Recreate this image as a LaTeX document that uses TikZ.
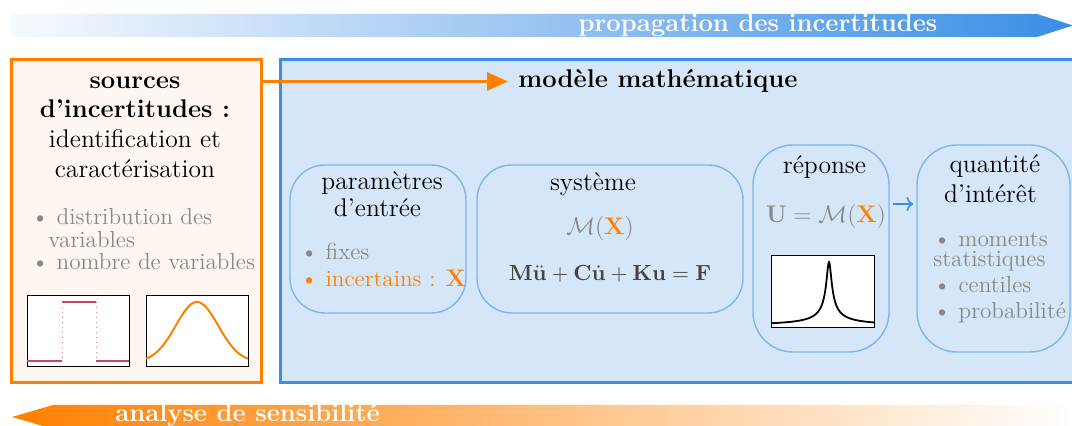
\documentclass[tikz,border=0pt]{standalone}
\usetikzlibrary{arrows.meta}
\definecolor{ora}{HTML}{FF8000}
\definecolor{blu}{HTML}{3A8EE6}
\definecolor{bfill}{HTML}{D5E6F8}
\definecolor{bin}{HTML}{7DB5EE}
\definecolor{ofill}{HTML}{FEF7F1}
\definecolor{gtext}{HTML}{888888}
\definecolor{eqc}{HTML}{444444}
\definecolor{unif}{HTML}{C8465E}
\definecolor{bandlight}{HTML}{F7FAFE}
\tikzset{
  ttl/.style={font=\fontsize{12.8}{15}\selectfont, inner sep=0pt, anchor=base},
  mth/.style={font=\fontsize{12.3}{15}\selectfont, inner sep=0pt, anchor=base},
  lst/.style={font=\fontsize{11.6}{14}\selectfont, text=gtext, inner sep=0pt, anchor=base west},
  bld/.style={font=\fontsize{12.8}{15}\selectfont\bfseries, inner sep=0pt, anchor=base},
  bandtxt/.style={font=\fontsize{12.8}{15}\selectfont\bfseries, text=white, inner sep=0pt, anchor=base},
  innerbox/.style={draw=bin, line width=0.7pt, fill=bfill, rounded corners=#1, inner sep=0pt},
  plotbox/.style={draw=black, line width=0.5pt, fill=white},
}
\begin{document}
\begin{tikzpicture}[x=0.5pt,y=-0.5pt]
\useasboundingbox (0,0) rectangle (1072,426);
\clip (0,0) rectangle (1072,426);
% bands
\shade[left color=bandlight, right color=blu] (10,14) -- (1037,14) -- (1073,25.5) -- (1037,37) -- (10,37) -- cycle;
\node[bandtxt] (prop) at (758,31.7) {propagation des incertitudes};
\shade[left color=ora, right color=white] (12,417) -- (53,405) -- (1072,405) -- (1072,429) -- (53,429) -- cycle;
\node[bandtxt] (sens) at (247.5,422) {analyse de sensibilité};
% main boxes
\node[draw=ora, fill=ofill, line width=1.5pt, minimum width=125.25pt, minimum height=161.25pt, inner sep=0pt] (src) at (136.25,221) {};
\node[draw=blu, fill=bfill, line width=1.5pt, minimum width=405pt, minimum height=161.25pt, inner sep=0pt] (mdl) at (685,221) {};
% source texts
\node[bld] (s1) at (135,88.3) {sources};
\node[bld] (s2) at (135,117.7) {d’incertitudes :};
\node[ttl] (s3) at (135,148) {identification et};
\node[ttl] (s4) at (135,178) {caractérisation};
\node[lst] (s5) at (31,225) {\textbullet\ distribution des};
\node[lst] (s6) at (48,248) {variables};
\node[lst] (s7) at (31,270) {\textbullet\ nombre de variables};
% uniform plot
\draw[plotbox] (27,296) rectangle (129,367);
\draw[unif!70, dotted, line width=0.5pt] (62,302) -- (62,361) (96,302) -- (96,361);
\draw[unif, line width=1pt] (27,361) -- (62,361) (62,302) -- (96,302) (96,361) -- (129,361);
% gaussian plot
\draw[plotbox] (146,296) rectangle (248,367);
\draw[ora, line width=1pt] plot[domain=146:248, samples=120, smooth] (\x,{362-60*exp(-(\x-197)*(\x-197)/900)});
% title of model and arrow
\node[bld, anchor=base west, inner xsep=5pt] (title) at (508,88) {modèle mathématique};
\draw[ora, line width=1.5pt, -{Triangle[length=10.5pt,width=9pt]}] (src.east |- title.west) -- (title.west);
% inner boxes
\node[innerbox=17.5pt, minimum width=88pt, minimum height=74pt] (par) at (378,239) {};
\node[innerbox=17.5pt, minimum width=133pt, minimum height=74pt] (sys) at (610,239) {};
\node[innerbox=20pt, minimum width=68pt, minimum height=103.5pt] (rep) at (821,248.5) {};
\node[innerbox=20pt, minimum width=76.5pt, minimum height=103.5pt] (qty) at (993.5,248.5) {};
% parameters
\node[ttl] (p1) at (382,189.3) {paramètres};
\node[ttl] (p2) at (377.5,216.7) {d’entrée};
\node[lst] (p3) at (300,260) {\textbullet\ fixes};
\node[lst, text=ora] (p4) at (300,287) {\textbullet\ incertains : $\mathbf{X}$};
% system
\node[ttl] (y1) at (593,191) {système};
\node[mth, text=gtext] (y2) at (600,235) {$\mathcal{M}(\textcolor{ora}{\mathbf{X}})$};
\node[mth, font=\fontsize{11}{13}\selectfont, text=eqc] (y3) at (610,281) {$\mathbf{M}\ddot{\mathbf{u}}+\mathbf{C}\dot{\mathbf{u}}+\mathbf{K}\mathbf{u}=\mathbf{F}$};
% response
\node[ttl] (r1) at (824.5,174) {réponse};
\node[mth, text=gtext] (r2) at (826,223) {$\mathbf{U}=\mathcal{M}(\textcolor{ora}{\mathbf{X}})$};
\draw[plotbox] (771,256) rectangle (874,328);
\draw[black, line width=0.9pt] plot[domain=771:874, samples=400] (\x,{326-64/sqrt(1+(\x-829)*(\x-829)/6.25)});
% quantity
\node[ttl] (q1) at (995,173) {quantité};
\node[ttl] (q2) at (990.5,203) {d’intérêt};
\node[lst] (q3) at (933,247) {\textbullet\ moments};
\node[lst] (q4) at (933,267) {statistiques};
\node[lst] (q5) at (933,293) {\textbullet\ centiles};
\node[lst] (q6) at (933,319) {\textbullet\ probabilité};
\draw[blu, line width=0.8pt, ->, shorten <=1.5pt, shorten >=1.5pt] ([yshift=22.25pt]rep.east) -- ([yshift=22.25pt]qty.west);
\end{tikzpicture}
\end{document}
